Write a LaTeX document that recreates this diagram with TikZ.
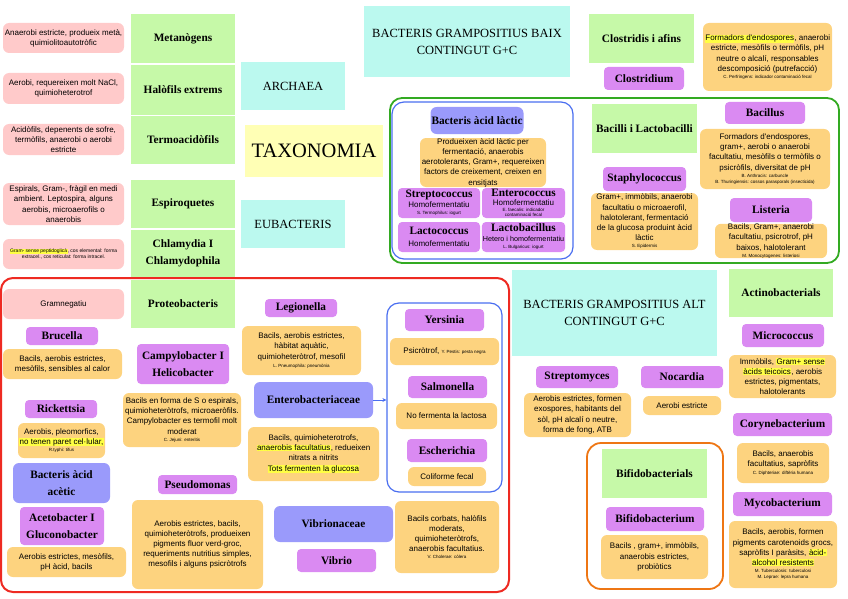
\documentclass[tikz,border=0pt]{standalone}
\usepackage{fontspec}
\setmainfont{Liberation Serif}
\newfontfamily\sansfam{Liberation Sans}
\usetikzlibrary{arrows.meta}
\definecolor{pinkc}{HTML}{FFCACA}
\definecolor{grnc}{HTML}{C6F9A8}
\definecolor{cync}{HTML}{BBF9EF}
\definecolor{yelc}{HTML}{FFFFB5}
\definecolor{purc}{HTML}{DA8AF2}
\definecolor{orac}{HTML}{FDD37F}
\definecolor{bluc}{HTML}{9A9AFB}
\definecolor{hly}{HTML}{FFFF44}
\definecolor{grpgc}{HTML}{33AA22}
\definecolor{grpbc}{HTML}{4A6EF0}
\definecolor{grprc}{HTML}{EE2A22}
\definecolor{grpoc}{HTML}{EE7614}
\newcommand\headf{\fontsize{11.3}{17}\selectfont\bfseries}
\newcommand\titf{\fontsize{12.5}{17}\selectfont}
\newcommand\bodyf{\sansfam\mdseries\fontsize{8}{10.2}\selectfont}
\newcommand\tinyf{\sansfam\mdseries\fontsize{4.5}{5.5}\selectfont}
\newcommand\tinyp{\sansfam\mdseries\fontsize{5}{6}\selectfont}
\newcommand\hlt[1]{{\setlength{\fboxsep}{0.4pt}\colorbox{hly}{#1}}}
\newcommand\bx[7]{%
  \pgfmathsetmacro\myBW{#5-#3}\pgfmathsetmacro\myBH{#6-#4}%
  \node[#2, minimum width=\myBW pt, minimum height=\myBH pt, inner xsep=1pt, inner ysep=0pt, align=center] (#1) at ({(#3+#5)/2},{(#4+#6)/2}) {#7};}
\tikzset{
  pinkb/.style={fill=pinkc, rounded corners=6pt, font=\bodyf},
  grn/.style={fill=grnc, font=\headf},
  cyn/.style={fill=cync, font=\titf},
  yel/.style={fill=yelc, font=\fontsize{20.5}{24}\selectfont},
  purp/.style={fill=purc, rounded corners=4pt, font=\headf},
  orab/.style={fill=orac, rounded corners=6pt, font=\bodyf},
  blub/.style={fill=bluc, rounded corners=6pt, font=\headf},
  grpg/.style={draw=grpgc, line width=1.8pt, rounded corners=12pt},
  grpb/.style={draw=grpbc, line width=1.2pt, rounded corners=12pt},
  grpr/.style={draw=grprc, line width=2pt, rounded corners=12pt},
  grpo/.style={draw=grpoc, line width=1.8pt, rounded corners=14pt},
  arrowc/.style={draw=grpbc, line width=0.8pt, -{Stealth[length=4pt,width=4pt]}}
}
\begin{document}
\begin{tikzpicture}[x=1pt,y=-1pt]
\useasboundingbox (0,0) rectangle (848,599);
% group borders
\bx{firmg}{grpg}{390}{98}{839}{263}{}
\bx{lacg}{grpb}{392}{102}{573}{259}{}
\bx{protg}{grpr}{1}{278}{509}{592}{}
\bx{entg}{grpb}{387}{303}{502}{492}{}
\bx{bifg}{grpo}{587}{443}{723}{589}{}
% left pink column
\bx{pa}{pinkb}{3}{23}{124}{53}{Anaerobi estricte, produeix metà,\\quimiolitoautotròfic}
\bx{pb}{pinkb}{3}{73}{124}{104}{Aerobi, requereixen molt NaCl,\\quimioheterotrof}
\bx{pc}{pinkb}{3}{124}{124}{155}{Acidòfils, depenents de sofre,\\termòfils, anaerobi o aerobi\\estricte}
\bx{pd}{pinkb}{3}{183}{124}{225}{Espirals, Gram-, fràgil en medi\\ambient. Leptospira, alguns\\aerobis, microaerofils o\\anaerobis}
\bx{pe}{pinkb}{3}{239}{124}{269}{{\tinyp\hlt{Gram- sense peptidoglicà}, cos elemental: forma}\\[-4pt]{\tinyp extracel., cos reticulat: forma intracel.}}
\bx{pf}{pinkb}{3}{289}{124}{319}{Gramnegatiu}
% green column
\bx{metan}{grn}{131}{14}{235}{63}{Metanògens}
\bx{halo}{grn}{131}{65}{235}{115}{Halòfils extrems}
\bx{termo}{grn}{131}{116}{235}{164}{Termoacidòfils}
\bx{espiro}{grn}{131}{180}{235}{228}{Espiroquetes}
\bx{chlam}{grn}{131}{230}{235}{277}{Chlamydia I\\Chlamydophila}
\bx{proteo}{grn}{131}{280}{235}{328}{Proteobacteris}
% titles
\bx{archaea}{cyn}{241}{62}{345}{110}{ARCHAEA}
\bx{taxo}{yel}{245}{125}{383}{177}{TAXONOMIA}
\bx{eubac}{cyn}{241}{200}{345}{248}{EUBACTERIS}
\bx{baix}{cyn}{364}{6}{570}{77}{BACTERIS GRAMPOSITIUS BAIX\\CONTINGUT G+C}
% clostridis
\bx{closg}{grn}{589}{14}{694}{63}{Clostridis i afins}
\bx{closp}{purp}{604}{67}{684}{90}{Clostridium}
\bx{closo}{orab}{703}{23}{832}{91}{\hlt{Formadors d'endospores}, anaerobi\\estricte, mesòfils o termòfils, pH\\neutre o alcalí, responsables\\descomposició (putrefacció)\\[-3pt]{\tinyf C. Perfringens: indicador contaminació fecal}}
% acid lactic
\bx{lach}{blub}{431}{107}{523}{134}{Bacteris àcid làctic}
\bx{laco}{orab}{420}{138}{546}{187}{Produeixen àcid làctic per\\fermentació, anaerobis\\aerotolerants, Gram+, requereixen\\factors de creixement, creixen en\\ensitjats}
\bx{strep}{purp}{398}{188}{480}{218}{Streptococcus\\[-7pt]{\bodyf Homofermentatiu}\\[-10pt]{\tinyf S. Termophilus: iogurt}}
\bx{enter}{purp}{482}{188}{565}{218}{Enterococcus\\[-8pt]{\bodyf Homofermentatiu}\\[-11pt]{\tinyf E. faecalis: indicador}\\[-12pt]{\tinyf contaminació fecal}}
\bx{lactoc}{purp}{398}{222}{480}{252}{Lactococcus\\[-5pt]{\bodyf Homofermentatiu}}
\bx{lactob}{purp}{482}{222}{565}{252}{Lactobacillus\\[-7pt]{\sansfam\mdseries\fontsize{7.2}{9}\selectfont Hetero i homofermentatiu}\\[-10pt]{\tinyf L. Bulgaricus: iogurt}}
% bacilli
\bx{bacg}{grn}{592}{104}{697}{153}{Bacilli i Lactobacilli}
\bx{bacp}{purp}{725}{102}{805}{124}{Bacillus}
\bx{baco}{orab}{700}{129}{830}{189}{Formadors d'endospores,\\gram+, aerobi o anaerobi\\facultatiu, mesòfils o termòfils o\\psicròfils, diversitat de pH\\[-3pt]{\tinyf B. Anthracis: carbuncle}\\[-4pt]{\tinyf B. Thuringiensis: cossos parasporals (insecticida)}}
\bx{stap}{purp}{603}{167}{686}{191}{Staphylococcus}
\bx{stao}{orab}{591}{193}{698}{250}{Gram+, immòbils, anaerobi\\facultatiu o microaerofil,\\halotolerant, fermentació\\de la glucosa produint àcid\\làctic\\[-3pt]{\tinyf S. Epidermis}}
\bx{lisp}{purp}{730}{198}{812}{222}{Listeria}
\bx{liso}{orab}{715}{225}{827}{257}{Bacils, Gram+, anaerobi\\facultatiu, psicrotrof, pH\\baixos, halotolerant\\[-3pt]{\tinyf M. Monocytogenes: listeriosi}}
% proteobacteris
\bx{brup}{purp}{26}{327}{98}{345}{Brucella}
\bx{bruo}{orab}{3}{349}{122}{379}{Bacils, aerobis estrictes,\\mesòfils, sensibles al calor}
\bx{ricp}{purp}{25}{400}{97}{418}{Rickettsia}
\bx{rico}{orab}{18}{423}{105}{458}{Aerobis, pleomorfics,\\\hlt{no tenen paret cel·lular,}\\[-3pt]{\tinyf R.typhi: tifus}}
\bx{acet}{blub}{13}{463}{110}{503}{Bacteris àcid\\acètic}
\bx{acep}{purp}{20}{507}{104}{545}{Acetobacter I\\Gluconobacter}
\bx{aceo}{orab}{7}{547}{126}{577}{Aerobis estrictes, mesòfils,\\pH àcid, bacils}
\bx{camp}{purp}{137}{344}{229}{384}{Campylobacter I\\Helicobacter}
\bx{camo}{orab}{123}{393}{241}{447}{Bacils en forma de S o espirals,\\quimioheteròtrofs, microaeròfils.\\Campylobacter es termofil molt\\moderat\\[-3pt]{\tinyf C. Jejuni: enteritis}}
\bx{psep}{purp}{158}{475}{237}{494}{Pseudomonas}
\bx{pseo}{orab}{132}{500}{263}{589}{Aerobis estrictes, bacils,\\quimioheteròtrofs, produeixen\\pigments fluor verd-groc,\\requeriments nutritius simples,\\mesofils i alguns psicròtrofs}
\bx{legp}{purp}{265}{299}{337}{317}{Legionella}
\bx{lego}{orab}{242}{326}{361}{375}{Bacils, aerobis estrictes,\\hàbitat aquàtic,\\quimioheteròtrof, mesofil\\[-2pt]{\tinyf L. Pneumophila: pneumònia}}
\bx{entp}{blub}{254}{382}{373}{418}{Enterobacteriaceae}
\bx{ento}{orab}{248}{427}{379}{481}{Bacils, quimioheterotrofs,\\\hlt{anaerobis facultatius}, redueixen\\nitrats a nitrits\\\hlt{Tots fermenten la glucosa}}
\bx{yerp}{purp}{405}{309}{484}{331}{Yersinia}
\bx{yero}{orab}{390}{338}{499}{365}{Psicròtrof, {\tinyf Y. Pestis: pesta negra}}
\bx{salp}{purp}{408}{376}{487}{398}{Salmonella}
\bx{salo}{orab}{396}{403}{497}{429}{No fermenta la lactosa}
\bx{escp}{purp}{407}{439}{487}{462}{Escherichia}
\bx{esco}{orab}{408}{467}{486}{486}{Coliforme fecal}
\bx{vibb}{blub}{274}{506}{393}{542}{Vibrionaceae}
\bx{vibp}{purp}{297}{549}{376}{572}{Vibrio}
\bx{vibo}{orab}{395}{501}{499}{573}{Bacils corbats, halòfils\\moderats,\\quimioheteròtrofs,\\anaerobis facultatius.\\[-3pt]{\tinyf V. Cholerae: còlera}}
\draw[arrowc] (entp.east) -- (entp.east -| entg.west);
% alt G+C
\bx{alt}{cyn}{512}{270}{717}{356}{BACTERIS GRAMPOSITIUS ALT\\CONTINGUT G+C}
\bx{stmp}{purp}{536}{366}{618}{388}{Streptomyces}
\bx{stmo}{orab}{524}{393}{631}{437}{Aerobis estrictes, formen\\exospores, habitants del\\sòl, pH alcalí o neutre,\\forma de fong, ATB}
\bx{nocp}{purp}{641}{366}{723}{388}{Nocardia}
\bx{noco}{orab}{643}{396}{721}{415}{Aerobi estricte}
\bx{actg}{grn}{729}{269}{833}{317}{Actinobacterials}
\bx{micp}{purp}{742}{324}{824}{347}{Micrococcus}
\bx{mico}{orab}{729}{355}{836}{398}{Immòbils, \hlt{Gram+ sense}\\\hlt{àcids teicoics}, aerobis\\estrictes, pigmentats,\\halotolerants}
\bx{corp}{purp}{733}{413}{832}{436}{Corynebacterium}
\bx{coro}{orab}{737}{443}{829}{483}{Bacils, anaerobis\\facultatius, sapròfits\\[-3pt]{\tinyf C. Diphteriae: diftèria humana}}
\bx{mycp}{purp}{733}{492}{832}{516}{Mycobacterium}
\bx{myco}{orab}{729}{521}{837}{588}{Bacils, aerobis, formen\\pigments carotenoids grocs,\\sapròfits I paràsits, \hlt{àcid-}\\\hlt{alcohol resistents}\\[-3pt]{\tinyf M. Tuberculosis: tuberculosi}\\[-4pt]{\tinyf M. Leprae: lepra humana}}
\bx{bifgr}{grn}{602}{449}{707}{498}{Bifidobacterials}
\bx{bifp}{purp}{606}{507}{704}{531}{Bifidobacterium}
\bx{bifo}{orab}{601}{535}{708}{579}{Bacils , gram+, immòbils,\\anaerobis estrictes,\\probiòtics}
\end{tikzpicture}
\end{document}
